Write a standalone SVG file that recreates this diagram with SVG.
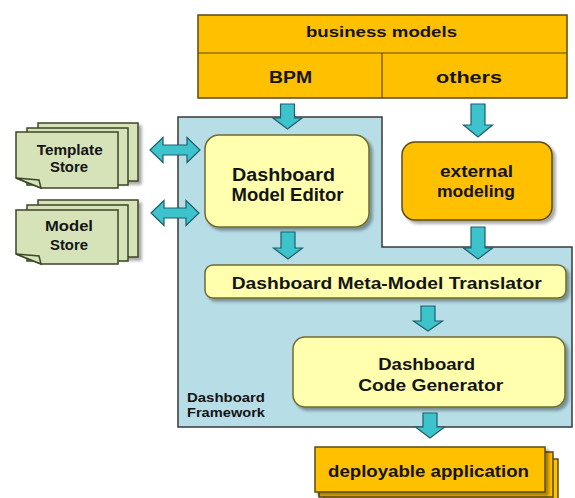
<svg xmlns="http://www.w3.org/2000/svg" width="575" height="498" viewBox="0 0 575 498">
<defs>
<filter id="sh" x="-10%" y="-10%" width="130%" height="140%">
<feDropShadow dx="3" dy="3" stdDeviation="1.5" flood-color="#000" flood-opacity="0.35"/>
</filter>
<style>
text{font-family:"Liberation Sans",Arial,sans-serif;font-weight:bold;fill:#141414;}
.c{text-anchor:middle;}
.gold{fill:#FFC000;stroke:#5b4a12;stroke-width:1.5;}
.fw{fill:#B7DDE6;stroke:#3a3a3a;stroke-width:1.5;}
.yel{fill:#FFFFAE;stroke:#6f6b2e;stroke-width:1.5;}
.page{fill:#D6E3B9;stroke:#3c4628;stroke-width:1.5;}
.arrow{fill:#3CC3CC;stroke:#1f5f6a;stroke-width:1.2;}
</style>
</defs>
<rect width="575" height="498" fill="#ffffff"/>

<g id="business-models">
<rect class="gold" x="198" y="15" width="369" height="83"/>
<line x1="198" y1="53" x2="567" y2="53" stroke="#5b4a12" stroke-width="1.2"/>
<line x1="382" y1="53" x2="382" y2="98" stroke="#5b4a12" stroke-width="1.2"/>
<text class="c" x="381.5" y="37" font-size="15" textLength="151" lengthAdjust="spacingAndGlyphs">business models</text>
<text class="c" x="290.5" y="83" font-size="16" textLength="43" lengthAdjust="spacingAndGlyphs">BPM</text>
<text class="c" x="469" y="83" font-size="16" textLength="66" lengthAdjust="spacingAndGlyphs">others</text>
</g>

<g id="framework">
<path class="fw" d="M178,117 H382 V247 H572 V427 H178 Z"/>
<text x="187" y="402" font-size="12" textLength="78" lengthAdjust="spacingAndGlyphs">Dashboard</text>
<text x="187" y="417" font-size="12" textLength="78" lengthAdjust="spacingAndGlyphs">Framework</text>
</g>

<g id="template-store">
<rect class="page" x="38" y="123" width="100" height="58" filter="url(#sh)"/>
<rect class="page" x="27" y="128" width="101" height="57"/>
<path class="page" d="M16,132 H118 V188 H41 L16,178 Z"/>
<path class="page" d="M16,178 L39,180 L41,188 Z" fill="#C9D8A8"/>
<text class="c" x="69.7" y="155" font-size="14" textLength="66" lengthAdjust="spacingAndGlyphs">Template</text>
<text class="c" x="69" y="172" font-size="14" textLength="38" lengthAdjust="spacingAndGlyphs">Store</text>
</g>

<g id="model-store">
<rect class="page" x="38" y="200" width="100" height="57" filter="url(#sh)"/>
<rect class="page" x="27" y="205" width="101" height="56"/>
<path class="page" d="M16,210 H118 V264 H41 L16,254 Z"/>
<path class="page" d="M16,254 L39,256 L41,264 Z" fill="#C9D8A8"/>
<text class="c" x="69" y="231" font-size="14" textLength="48" lengthAdjust="spacingAndGlyphs">Model</text>
<text class="c" x="69" y="250" font-size="14" textLength="38" lengthAdjust="spacingAndGlyphs">Store</text>
</g>

<g id="model-editor">
<rect class="yel" x="205" y="135" width="164" height="92" rx="14" filter="url(#sh)"/>
<text class="c" x="283.5" y="181" font-size="18" textLength="103" lengthAdjust="spacingAndGlyphs">Dashboard</text>
<text class="c" x="287.5" y="201" font-size="18" textLength="112" lengthAdjust="spacingAndGlyphs">Model Editor</text>
</g>

<g id="external-modeling">
<rect class="gold" x="402" y="142" width="150" height="78" rx="13" filter="url(#sh)"/>
<text class="c" x="476.5" y="177" font-size="17" textLength="73" lengthAdjust="spacingAndGlyphs">external</text>
<text class="c" x="476" y="197" font-size="17" textLength="78" lengthAdjust="spacingAndGlyphs">modeling</text>
</g>

<g id="translator">
<rect class="yel" x="205" y="265" width="361" height="33" rx="8" filter="url(#sh)"/>
<text class="c" x="386.7" y="289" font-size="16" textLength="310" lengthAdjust="spacingAndGlyphs">Dashboard Meta-Model Translator</text>
</g>

<g id="code-generator">
<rect class="yel" x="293" y="337" width="272" height="70" rx="12" filter="url(#sh)"/>
<text class="c" x="426.7" y="370" font-size="17" textLength="97" lengthAdjust="spacingAndGlyphs">Dashboard</text>
<text class="c" x="430.7" y="391" font-size="17" textLength="145" lengthAdjust="spacingAndGlyphs">Code Generator</text>
</g>

<g id="deployable-application">
<rect class="gold" x="324" y="459" width="234" height="45"/>
<rect class="gold" x="319" y="452" width="234" height="45"/>
<rect class="gold" x="315" y="447" width="230" height="45" filter="url(#sh)"/>
<text class="c" x="428.5" y="477" font-size="17" textLength="201" lengthAdjust="spacingAndGlyphs">deployable application</text>
</g>

<g id="connectors">
<path class="arrow" d="M280.5,104 H294.5 V118 H302 L287.5,129 L273,118 H280.5 Z"/>
<path class="arrow" d="M471,104 H485 V125 H492.5 L478,137 L463.5,125 H471 Z"/>
<path class="arrow" d="M281,232 H295 V248 H302.5 L288,259 L273.5,248 H281 Z"/>
<path class="arrow" d="M471,227 H485 V248 H492.5 L478,259 L463.5,248 H471 Z"/>
<path class="arrow" d="M421,306 H435 V321 H442.5 L428,331 L413.5,321 H421 Z"/>
<path class="arrow" d="M423,413 H437 V427 H444.5 L430,438 L415.5,427 H423 Z"/>
<path class="arrow" d="M150,150 L163,137.5 V145 H187 V137.5 L200,150 L187,162.5 V155 H163 V162.5 Z"/>
<path class="arrow" d="M151,213 L164,200.5 V208 H186 V200.5 L199,213 L186,225.5 V218 H164 V225.5 Z"/>
</g>
</svg>
